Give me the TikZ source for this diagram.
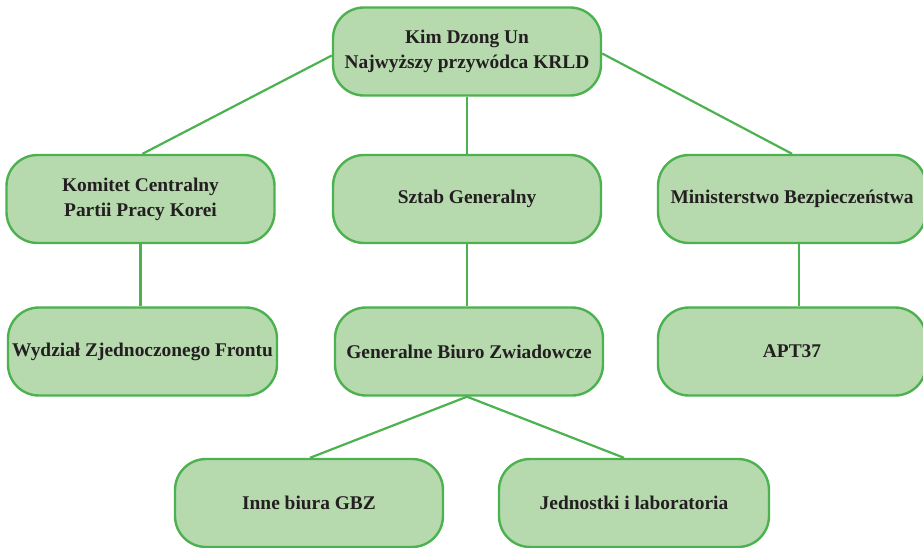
\documentclass[tikz,border=0pt]{standalone}
\usepackage{fontspec}
\setmainfont{Liberation Serif}
\definecolor{boxfill}{RGB}{182,217,174}
\definecolor{boxline}{RGB}{76,177,79}
\definecolor{txt}{RGB}{35,31,32}
\begin{document}
\begin{tikzpicture}[x=1pt,y=-1pt,
  orgbox/.style={draw=boxline, fill=boxfill, line width=2.4pt, rounded corners=31pt,
    minimum width=268pt, minimum height=88pt, align=center, inner sep=0pt,
    font=\fontsize{19.4}{25}\selectfont\bfseries, text=txt},
  link/.style={draw=boxline, line width=2.2pt}]
\useasboundingbox (0,0) rectangle (923,548);
\begin{scope}
\clip (0,0) rectangle (923,548);
\node[orgbox] (top) at (467,51.5) {Kim Dzong Un\\Najwyższy przywódca KRLD};
\node[orgbox] (kom) at (140.5,199) {Komitet Centralny\\Partii Pracy Korei};
\node[orgbox] (sztab) at (467,199) {Sztab Generalny};
\node[orgbox] (min) at (792,199) {Ministerstwo Bezpieczeństwa};
\node[orgbox, minimum width=269pt] (wyd) at (142.5,351.5) {Wydział Zjednoczonego Frontu};
\node[orgbox] (gen) at (469,351.5) {Generalne Biuro Zwiadowcze};
\node[orgbox] (apt) at (792,351.5) {APT37};
\node[orgbox] (inne) at (309,503) {Inne biura GBZ};
\node[orgbox, minimum width=270pt] (jed) at (634,503) {Jednostki i laboratoria};
\end{scope}
\draw[link] ([yshift=-4pt]top.west) -- ([xshift=2pt]kom.north);
\draw[link] ([yshift=-2pt]top.east) -- (min.north);
\draw[link] (top.south) -- (sztab.north);
\draw[link] (kom.south) -- ([xshift=-2pt]wyd.north);
\draw[link] (sztab.south) -- ([xshift=-2pt]gen.north);
\draw[link] ([xshift=7pt]min.south) -- ([xshift=7pt]apt.north);
\draw[link] ([xshift=-2pt]gen.south) -- ([xshift=1pt]inne.north);
\draw[link] ([xshift=-2pt]gen.south) -- ([xshift=-10pt]jed.north);
\end{tikzpicture}
\end{document}
